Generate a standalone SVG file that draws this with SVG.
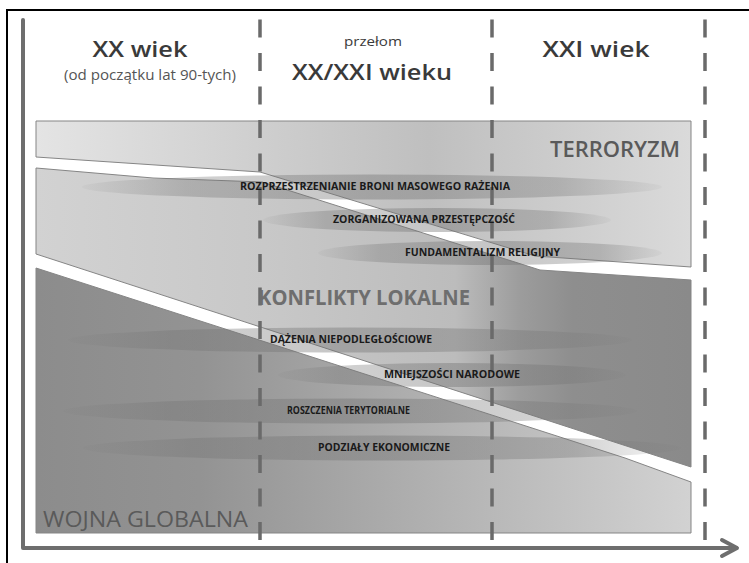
<svg xmlns="http://www.w3.org/2000/svg" width="749" height="563" viewBox="0 0 749 563">
  <style>
    .head { font-family: "Open Sans", "Liberation Sans", sans-serif; fill: #3a3a3a; }
    .big { font-size: 22px; font-weight: 600; }
    .sub { font-size: 14px; fill: #555; }
    .band-label { font-family: "Open Sans", "Liberation Sans", sans-serif; font-size: 21px; }
    .threat { font-family: "Open Sans", "Liberation Sans", sans-serif; font-size: 10px; font-weight: 700; fill: #1a1a1a; }
    .band { stroke: #858585; stroke-width: 1; stroke-linejoin: round; }
    .dash { stroke: #6a6a6a; stroke-width: 3.5; stroke-dasharray: 18 15.5; fill: none; }
    .axis { stroke: #6e6e6e; stroke-width: 4; fill: none; stroke-linecap: round; stroke-linejoin: round; }
  </style>
  <defs>
    <linearGradient id="gTerror" gradientUnits="userSpaceOnUse" x1="36" y1="0" x2="691" y2="0">
      <stop offset="0" stop-color="#e4e4e4"/>
      <stop offset="0.35" stop-color="#cecece"/>
      <stop offset="0.6" stop-color="#bfbfbf"/>
      <stop offset="0.85" stop-color="#d0d0d0"/>
      <stop offset="1" stop-color="#dadada"/>
    </linearGradient>
    <linearGradient id="gLocal" gradientUnits="userSpaceOnUse" x1="36" y1="0" x2="691" y2="0">
      <stop offset="0" stop-color="#d2d2d2"/>
      <stop offset="0.35" stop-color="#c8c8c8"/>
      <stop offset="0.64" stop-color="#bcbcbc"/>
      <stop offset="0.74" stop-color="#9c9c9c"/>
      <stop offset="0.82" stop-color="#8e8e8e"/>
      <stop offset="1" stop-color="#8a8a8a"/>
    </linearGradient>
    <linearGradient id="gGlobal" gradientUnits="userSpaceOnUse" x1="36" y1="0" x2="691" y2="0">
      <stop offset="0" stop-color="#8c8c8c"/>
      <stop offset="0.25" stop-color="#939393"/>
      <stop offset="0.5" stop-color="#a8a8a8"/>
      <stop offset="0.75" stop-color="#bdbdbd"/>
      <stop offset="1" stop-color="#d2d2d2"/>
    </linearGradient>
    <!-- soft bar behind each threat label: even tone, faded ends -->
    <linearGradient id="gHalo" x1="0" y1="0" x2="1" y2="0">
      <stop offset="0" stop-color="#707070" stop-opacity="0.05"/>
      <stop offset="0.18" stop-color="#707070" stop-opacity="0.32"/>
      <stop offset="0.5" stop-color="#707070" stop-opacity="0.4"/>
      <stop offset="0.82" stop-color="#707070" stop-opacity="0.32"/>
      <stop offset="1" stop-color="#707070" stop-opacity="0.05"/>
    </linearGradient>
  </defs>

  <rect width="749" height="563" fill="#ffffff"/>

  <!-- outer frame (open on the right and bottom) -->
  <path d="M7,563 V10 H749" fill="none" stroke="#000" stroke-width="2"/>

  <!-- bands -->
  <g id="band-terroryzm">
    <path class="band" fill="url(#gTerror)" d="M36,121 H691 V267 L535,256 L260,172 L36,157 Z"/>
  </g>
  <g id="band-konflikty">
    <path class="band" fill="url(#gLocal)" d="M36,168 L153,178 L262,182 L540,270 L691,280 V467 L36,254 Z"/>
  </g>
  <g id="band-wojna">
    <path class="band" fill="url(#gGlobal)" d="M36,268 L625,458 L691,482 V533 H36 Z"/>
  </g>

  <!-- bars behind the threat labels -->
  <g id="halos" fill="url(#gHalo)">
    <ellipse cx="372" cy="187" rx="290" ry="12.5"/>
    <ellipse cx="437" cy="220" rx="174" ry="12"/>
    <ellipse cx="490" cy="253" rx="172" ry="12"/>
    <ellipse cx="350" cy="340" rx="282" ry="12.5"/>
    <ellipse cx="452" cy="375" rx="174" ry="12"/>
    <ellipse cx="350" cy="411" rx="287" ry="12.5"/>
    <ellipse cx="382" cy="448" rx="299" ry="12.5"/>
  </g>

  <!-- period separators -->
  <g id="separators">
    <line class="dash" x1="260" y1="19.5" x2="260" y2="541"/>
    <line class="dash" x1="492" y1="19.5" x2="492" y2="541"/>
    <line class="dash" x1="705" y1="19.5" x2="705" y2="541"/>
  </g>

  <!-- time axis -->
  <g id="axis">
    <path class="axis" d="M23,20 V548 H736"/>
    <path class="axis" d="M722,540 L737,548 L722,556"/>
  </g>

  <!-- period headings -->
  <g id="period-xx">
    <text class="head big" x="140" y="57" text-anchor="middle" textLength="95" lengthAdjust="spacingAndGlyphs">XX wiek</text>
    <text class="head sub" x="150" y="80" text-anchor="middle" textLength="172" lengthAdjust="spacingAndGlyphs">(od początku lat 90-tych)</text>
  </g>
  <g id="period-przelom">
    <text class="head" x="373" y="46" text-anchor="middle" font-size="13" fill="#555" textLength="58" lengthAdjust="spacingAndGlyphs">przełom</text>
    <text class="head big" x="372" y="80" text-anchor="middle" textLength="160" lengthAdjust="spacingAndGlyphs">XX/XXI wieku</text>
  </g>
  <g id="period-xxi">
    <text class="head big" x="596" y="57" text-anchor="middle" textLength="107" lengthAdjust="spacingAndGlyphs">XXI wiek</text>
  </g>

  <!-- band names -->
  <g id="label-terroryzm">
    <text class="band-label" x="680" y="157" text-anchor="end" fill="#5a5a5a" font-weight="600" textLength="130" lengthAdjust="spacingAndGlyphs">TERRORYZM</text>
  </g>
  <g id="label-konflikty">
    <text class="band-label" x="258" y="305" fill="#6e6e6e" font-weight="700" textLength="212" lengthAdjust="spacingAndGlyphs">KONFLIKTY LOKALNE</text>
  </g>
  <g id="label-wojna">
    <text class="band-label" x="43" y="527" fill="#5a5a5a" textLength="205" lengthAdjust="spacingAndGlyphs">WOJNA GLOBALNA</text>
  </g>

  <!-- threat labels -->
  <g id="threats">
    <text class="threat" x="240" y="190" textLength="270" lengthAdjust="spacingAndGlyphs">ROZPRZESTRZENIANIE BRONI MASOWEGO RAŻENIA</text>
    <text class="threat" x="333" y="223" textLength="182" lengthAdjust="spacingAndGlyphs">ZORGANIZOWANA PRZESTĘPCZOŚĆ</text>
    <text class="threat" x="405" y="256" textLength="155" lengthAdjust="spacingAndGlyphs">FUNDAMENTALIZM RELIGIJNY</text>
    <text class="threat" x="270" y="343" textLength="162" lengthAdjust="spacingAndGlyphs">DĄŻENIA NIEPODLEGŁOŚCIOWE</text>
    <text class="threat" x="384" y="378" textLength="136" lengthAdjust="spacingAndGlyphs">MNIEJSZOŚCI NARODOWE</text>
    <text class="threat" x="287" y="414" textLength="123" lengthAdjust="spacingAndGlyphs">ROSZCZENIA TERYTORIALNE</text>
    <text class="threat" x="318" y="451" textLength="132" lengthAdjust="spacingAndGlyphs">PODZIAŁY EKONOMICZNE</text>
  </g>
</svg>
